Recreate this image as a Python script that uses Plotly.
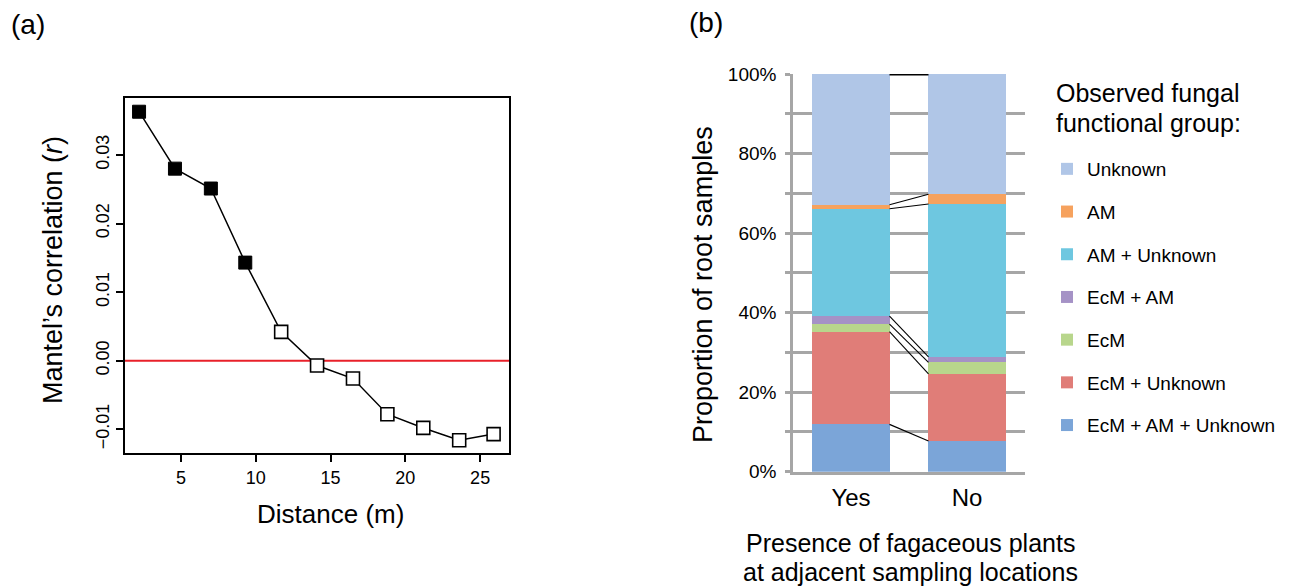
import plotly.graph_objects as go

# ---------------- data ----------------
# Panel (a): Mantel correlogram
distance_m = [2.2, 4.6, 7.0, 9.3, 11.7, 14.1, 16.5, 18.8, 21.2, 23.6, 25.9]
mantel_r = [0.0363, 0.0280, 0.0251, 0.0143, 0.0042, -0.0007, -0.0026, -0.0078, -0.0098, -0.0116, -0.0107]
significant = [True, True, True, True, False, False, False, False, False, False, False]
x_ticks_a = [5, 10, 15, 20, 25]
y_ticks_a = [-0.01, 0.00, 0.01, 0.02, 0.03]

# Panel (b): stacked proportions (%), listed bottom to top
categories = ["Yes", "No"]
groups = ["EcM + AM + Unknown", "EcM + Unknown", "EcM", "EcM + AM", "AM + Unknown", "AM", "Unknown"]
yes_pct = [11.9, 23.3, 1.9, 2.0, 27.0, 1.0, 32.9]
no_pct = [7.7, 16.9, 2.9, 1.4, 38.4, 2.45, 30.25]
y_ticks_b = [0, 20, 40, 60, 80, 100]

# ---------------- styles ----------------
PAGE_W, PAGE_H = 1291, 588
BODY = 8  # default page body margin
W, H = PAGE_W - BODY, PAGE_H - BODY
FONT = "Liberation Sans, Arial, sans-serif"
group_colors = {
    "EcM + AM + Unknown": "#7ba5d8",
    "EcM + Unknown": "#e07d78",
    "EcM": "#b8d68c",
    "EcM + AM": "#a592c6",
    "AM + Unknown": "#6ec7e0",
    "AM": "#f6a25e",
    "Unknown": "#b0c6e7",
}
GRID = "#a6a6a6"
BAR_W = 0.664


def px(x):
    return (x - BODY) / W


def py(y):
    return 1 - (y - BODY) / H


fig = go.Figure()

# ---- panel (a) ----
fig.add_trace(go.Scatter(
    x=distance_m, y=mantel_r, mode="lines",
    line=dict(color="black", width=1.5),
    xaxis="x", yaxis="y", showlegend=False, hoverinfo="skip"))
sig_x = [d for d, s in zip(distance_m, significant) if s]
sig_y = [r for r, s in zip(mantel_r, significant) if s]
ns_x = [d for d, s in zip(distance_m, significant) if not s]
ns_y = [r for r, s in zip(mantel_r, significant) if not s]
fig.add_trace(go.Scatter(
    x=sig_x, y=sig_y, mode="markers",
    marker=dict(symbol="square", size=13, color="black", line=dict(color="black", width=1)),
    xaxis="x", yaxis="y", showlegend=False))
fig.add_trace(go.Scatter(
    x=ns_x, y=ns_y, mode="markers",
    marker=dict(symbol="square", size=13, color="white", line=dict(color="black", width=1.6)),
    xaxis="x", yaxis="y", showlegend=False))

# ---- panel (b) ----
cum_yes, cum_no = [], []
sy = sn = 0.0
n_groups = len(groups)
for i, (g, vy, vn) in enumerate(zip(groups, yes_pct, no_pct)):
    fig.add_trace(go.Bar(
        x=[0, 1], y=[vy, vn], width=BAR_W, name=g,
        marker=dict(color=group_colors[g], line=dict(width=0)),
        xaxis="x2", yaxis="y2", legendgroup=g, legendrank=n_groups - i, showlegend=True))
    sy += vy
    sn += vn
    cum_yes.append(sy)
    cum_no.append(sn)

# connector lines between matching segment boundaries
cx, cy = [], []
for a, b in zip(cum_yes[:-1], cum_no[:-1]):
    cx += [0 + BAR_W / 2, 1 - BAR_W / 2, None]
    cy += [a, b, None]
fig.add_trace(go.Scatter(x=cx, y=cy, mode="lines", line=dict(color="black", width=1.1),
                         xaxis="x2", yaxis="y2", showlegend=False, hoverinfo="skip"))
fig.add_trace(go.Scatter(x=[0 + BAR_W / 2, 1 - BAR_W / 2], y=[cum_yes[-1], cum_no[-1]],
                         mode="lines", line=dict(color="black", width=3),
                         xaxis="x2", yaxis="y2", showlegend=False, hoverinfo="skip"))

fig.update_layout(
    width=W, height=H,
    margin=dict(l=0, r=0, t=0, b=0, autoexpand=False),
    paper_bgcolor="white", plot_bgcolor="white",
    font=dict(family=FONT, color="black"),
    barmode="stack",
    showlegend=True,
    xaxis=dict(
        domain=[px(125), px(509)], anchor="y", automargin=False,
        range=[1.26, 26.93], tickvals=x_ticks_a,
        showgrid=False, zeroline=False,
        showline=True, mirror=True, linecolor="black", linewidth=2,
        ticks="outside", ticklen=7, tickwidth=1.5, tickcolor="black",
        tickfont=dict(size=18, family=FONT)),
    yaxis=dict(
        domain=[py(453.3), py(98)], anchor="x", automargin=False,
        range=[-0.0135, 0.0383], tickvals=y_ticks_a, tickformat=".2f",
        tickangle=-90, ticklabelstandoff=0,
        showgrid=False, zeroline=False,
        showline=True, mirror=True, linecolor="black", linewidth=2,
        ticks="outside", ticklen=7, tickwidth=1.5, tickcolor="black",
        tickfont=dict(size=18, family=FONT)),
    xaxis2=dict(
        domain=[px(793), px(1025)], anchor="y2", automargin=False,
        range=[-0.5, 1.5], tickmode="array", tickvals=[0, 1], ticktext=categories,
        showgrid=False, zeroline=False,
        showline=True, linecolor=GRID, linewidth=2.5,
        ticks="", tickfont=dict(size=24, family=FONT), ticklabelstandoff=3),
    yaxis2=dict(
        domain=[py(471.7), py(74)], anchor="x2", automargin=False,
        range=[0, 100], tickmode="array", tickvals=y_ticks_b,
        ticktext=[f"{v}%" for v in y_ticks_b],
        showgrid=True, gridcolor=GRID, gridwidth=2.5, zeroline=False,
        showline=True, linecolor=GRID, linewidth=2.5,
        ticks="outside", ticklen=5, tickwidth=2.5, tickcolor=GRID,
        minor=dict(dtick=10, tick0=0, showgrid=True, gridcolor=GRID, gridwidth=2.5,
                   ticks="outside", ticklen=5, tickwidth=2.5, tickcolor=GRID),
        tickfont=dict(size=19, family=FONT), ticklabelstandoff=5),
    legend=dict(
        x=px(1047), y=py(150), xanchor="left", yanchor="top",
        traceorder="grouped", tracegroupgap=15,
        font=dict(size=19, family=FONT),
        itemwidth=30, bgcolor="rgba(0,0,0,0)", borderwidth=0),
    shapes=[dict(type="line", xref="x domain", yref="y", x0=0, x1=1, y0=0, y1=0,
                 line=dict(color="#e8202a", width=2), layer="below")],
)

annots = [
    dict(text="(a)", x=px(9), y=py(24), xanchor="left", yanchor="middle", font=dict(size=28)),
    dict(text="(b)", x=px(687), y=py(22), xanchor="left", yanchor="middle", font=dict(size=28)),
    dict(text="Distance (m)", x=px(330), y=py(514), xanchor="center", yanchor="middle", font=dict(size=26)),
    dict(text="Mantel\u2019s correlation (<i>r</i>)", x=px(53), y=py(270), xanchor="center", yanchor="middle",
         textangle=-90, font=dict(size=27)),
    dict(text="Proportion of root samples", x=px(703), y=py(285), xanchor="center", yanchor="middle",
         textangle=-90, font=dict(size=27)),
    dict(text="Presence of fagaceous plants", x=px(910), y=py(543), xanchor="center", yanchor="middle",
         font=dict(size=25)),
    dict(text="at adjacent sampling locations", x=px(910), y=py(572), xanchor="center", yanchor="middle",
         font=dict(size=25)),
    dict(text="Observed fungal", x=px(1054), y=py(93), xanchor="left", yanchor="middle", font=dict(size=25)),
    dict(text="functional group:", x=px(1054), y=py(123), xanchor="left", yanchor="middle", font=dict(size=25)),
]
for a in annots:
    a.update(xref="paper", yref="paper", showarrow=False)
    a["font"] = dict(family=FONT, color="black", size=a["font"]["size"])
fig.update_layout(annotations=annots)

fig.write_html("out.html")
